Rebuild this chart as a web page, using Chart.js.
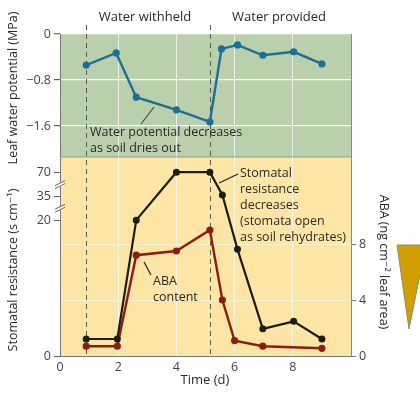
<!DOCTYPE html>
<html>
<head>
<meta charset="utf-8">
<script src="https://cdn.jsdelivr.net/npm/chart.js@4"></script>
<style>
  html, body { margin: 0; padding: 0; background: #fff; }
  #wrap { width: 420px; height: 394px; position: relative; }
</style>
</head>
<body>
<div id="wrap"><canvas id="chart"></canvas></div>
<script>
// Leaf water potential (MPa)
const potDays = [0.9, 1.93, 2.62, 4.0, 5.15, 5.55, 6.1, 6.97, 8.03, 9.0];
const potValues = [-0.54, -0.33, -1.10, -1.32, -1.53, -0.26, -0.19, -0.37, -0.31, -0.52];

// Stomatal resistance (s cm-1), broken axis
const resistDays = [0.9, 1.97, 2.62, 4.0, 5.15, 5.58, 6.1, 6.97, 8.03, 9.0];
const resistValues = [2.5, 2.5, 20, 70, 70, 37, 15.7, 4.0, 5.1, 2.5];
const resistTicks = [0, 20, 35, 70];

// ABA (ng cm-2 leaf area)
const abaDays = [0.9, 1.97, 2.62, 4.0, 5.15, 5.58, 6.0, 6.97, 9.0];
const abaValues = [0.7, 0.7, 7.2, 7.5, 9.0, 4.0, 1.1, 0.7, 0.55];
const abaTicks = [0, 4, 8];

const potTicks = [0, -0.8, -1.6];
const timeTicks = [0, 2, 4, 6, 8];
const phaseDays = [0.9, 5.15];

const FONT = '"Open Sans", "DejaVu Sans", sans-serif';

// map real resistance onto the broken axis (0-20 linear, then compressed)
function resistPos(v) {
  if (v <= 20) return v;
  if (v <= 35) return 20 + (v - 20) * 3.5 / 15;
  return 23.5 + (v - 35) * 3.56 / 35;
}

const pts = (xs, ys, f) => xs.map((x, i) => ({x: x, y: f ? f(ys[i]) : ys[i]}));

const decor = {
  id: 'decor',
  beforeDraw(chart) {
    const {ctx, chartArea: a, scales} = chart;
    ctx.save();
    ctx.fillStyle = '#bacfab';
    ctx.fillRect(a.left, scales.yw.top, a.right - a.left, scales.yw.bottom - scales.yw.top);
    ctx.fillStyle = '#fde5a6';
    ctx.fillRect(a.left, scales.yr.top, a.right - a.left, scales.yr.bottom - scales.yr.top);
    ctx.restore();
  },
  beforeDatasetsDraw(chart) {
    const {ctx, chartArea: a, scales} = chart;
    ctx.save();
    // panel divider
    ctx.strokeStyle = '#8f9d86';
    ctx.lineWidth = 1.2;
    ctx.beginPath();
    ctx.moveTo(a.left, scales.yw.bottom);
    ctx.lineTo(a.right, scales.yw.bottom);
    ctx.stroke();
    // phase lines
    ctx.strokeStyle = '#555f4c';
    ctx.lineWidth = 1;
    ctx.setLineDash([5, 4]);
    phaseDays.forEach(d => {
      const x = Math.round(scales.x.getPixelForValue(d)) + 0.5;
      ctx.beginPath();
      ctx.moveTo(x, 25);
      ctx.lineTo(x, a.bottom);
      ctx.stroke();
    });
    ctx.restore();
  },
  afterDraw(chart) {
    const {ctx} = chart;
    ctx.save();
    ctx.fillStyle = '#2a2a2a';
    ctx.textBaseline = 'middle';

    // headings
    ctx.font = '13px ' + FONT;
    ctx.textAlign = 'center';
    ctx.fillText('Water withheld', 145, 17);
    ctx.fillText('Water provided', 279, 17);
    ctx.fillText('Time (d)', 205, 380);

    // annotations
    ctx.font = '12.5px ' + FONT;
    ctx.textAlign = 'left';
    ctx.fillText('Water potential decreases', 90, 132);
    ctx.fillText('as soil dries out', 90, 148);
    ['Stomatal', 'resistance', 'decreases', '(stomata open', 'as soil rehydrates)']
      .forEach((t, i) => ctx.fillText(t, 240, 173 + i * 16));
    ctx.fillText('ABA', 153, 281);
    ctx.fillText('content', 153, 297);

    // leader lines
    ctx.lineWidth = 1.2;
    ctx.strokeStyle = '#3e4d3c';
    ctx.beginPath(); ctx.moveTo(154, 107); ctx.lineTo(141, 124); ctx.stroke();
    ctx.strokeStyle = '#222';
    ctx.beginPath(); ctx.moveTo(219, 183); ctx.lineTo(238, 174); ctx.stroke();
    ctx.beginPath(); ctx.moveTo(144, 262); ctx.lineTo(151, 275); ctx.stroke();

    // axis titles
    ctx.font = '12.5px ' + FONT;
    ctx.textAlign = 'center';
    ctx.save();
    ctx.translate(13, 88);
    ctx.rotate(-Math.PI / 2);
    ctx.fillText('Leaf water potential (MPa)', 0, 0);
    ctx.restore();
    ctx.save();
    ctx.translate(13, 270);
    ctx.rotate(-Math.PI / 2);
    ctx.fillText('Stomatal resistance (s cm\u207B\u00B9)', 0, 0);
    ctx.restore();
    ctx.save();
    ctx.translate(384, 262);
    ctx.rotate(Math.PI / 2);
    ctx.fillText('ABA (ng cm\u207B\u00B2 leaf area)', 0, 0);
    ctx.restore();

    // axis break marks
    const yr = chart.scales.yr;
    ctx.strokeStyle = '#666';
    ctx.lineWidth = 1;
    [resistPos(27.5), resistPos(52)].forEach(v => {
      const y = yr.getPixelForValue(v);
      ctx.fillStyle = '#fff';
      ctx.fillRect(56, y - 2, 8, 4);
      ctx.beginPath(); ctx.moveTo(55, y + 1); ctx.lineTo(65, y - 4); ctx.stroke();
      ctx.beginPath(); ctx.moveTo(55, y + 4); ctx.lineTo(65, y - 1); ctx.stroke();
    });

    // decorative triangle
    ctx.fillStyle = '#d39f00';
    ctx.strokeStyle = '#8a8a7a';
    ctx.beginPath();
    ctx.moveTo(397, 245); ctx.lineTo(426, 245); ctx.lineTo(409, 329);
    ctx.closePath();
    ctx.fill();
    ctx.stroke();
    ctx.restore();
  }
};

const tickFont = {family: FONT, size: 12.5};

new Chart(document.getElementById('chart'), {
  type: 'line',
  data: {
    datasets: [
      {
        label: 'Leaf water potential',
        data: pts(potDays, potValues),
        yAxisID: 'yw',
        borderColor: '#1b6f98',
        backgroundColor: '#1b6f98',
        borderWidth: 2.4,
        pointRadius: 2.4,
        tension: 0
      },
      {
        label: 'Stomatal resistance',
        data: pts(resistDays, resistValues, resistPos),
        yAxisID: 'yr',
        borderColor: '#1c1c1a',
        backgroundColor: '#1c1c1a',
        borderWidth: 2.2,
        pointRadius: 2.4,
        tension: 0
      },
      {
        label: 'ABA content',
        data: pts(abaDays, abaValues),
        yAxisID: 'yaba',
        borderColor: '#8c1d10',
        backgroundColor: '#8c1d10',
        borderWidth: 2.4,
        pointRadius: 2.4,
        tension: 0
      }
    ]
  },
  options: {
    responsive: true,
    maintainAspectRatio: false,
    animation: false,
    layout: {padding: {top: 34, right: 0, bottom: 0, left: 0}},
    plugins: {
      legend: {display: false},
      tooltip: {enabled: false}
    },
    scales: {
      x: {
        type: 'linear',
        min: 0,
        max: 10,
        afterBuildTicks: s => { s.ticks = timeTicks.map(v => ({value: v})); },
        afterFit: s => { s.height = 38; },
        ticks: {font: tickFont, color: '#444', padding: 4},
        grid: {color: 'rgba(255,255,255,0.7)', drawTicks: false},
        border: {color: '#777'}
      },
      yr: {
        type: 'linear',
        position: 'left',
        stack: 'panels',
        stackWeight: 199,
        min: 0,
        max: 29.3,
        afterBuildTicks: s => { s.ticks = resistTicks.map(v => ({value: resistPos(v)})); },
        afterFit: s => { s.width = 60; },
        ticks: {
          font: tickFont,
          color: '#444',
          padding: 3,
          callback: (v, i) => String(resistTicks[i])
        },
        grid: {drawOnChartArea: false, tickColor: '#666', tickLength: 6},
        border: {color: '#777'}
      },
      yw: {
        type: 'linear',
        position: 'left',
        stack: 'panels',
        stackWeight: 123,
        min: -2.14,
        max: 0,
        afterBuildTicks: s => { s.ticks = potTicks.map(v => ({value: v})); },
        afterFit: s => { s.width = 60; },
        ticks: {
          font: tickFont,
          color: '#444',
          padding: 3,
          callback: v => v === 0 ? '0' : '\u2212' + Math.abs(v).toFixed(1)
        },
        grid: {color: 'rgba(255,255,255,0.9)', lineWidth: 1.2, tickColor: '#666', tickLength: 6},
        border: {color: '#777'}
      },
      yaba: {
        type: 'linear',
        position: 'right',
        min: 0,
        max: 23.0,
        afterBuildTicks: s => { s.ticks = abaTicks.map(v => ({value: v})); },
        afterFit: s => { s.width = 69; },
        ticks: {font: tickFont, color: '#444', padding: 3},
        grid: {
          color: c => c.tick && c.tick.value === 0 ? 'rgba(0,0,0,0)' : 'rgba(255,255,255,0.5)',
          tickColor: '#777',
          tickLength: 5
        },
        border: {color: '#888'}
      }
    }
  },
  plugins: [decor]
});
</script>
</body>
</html>
